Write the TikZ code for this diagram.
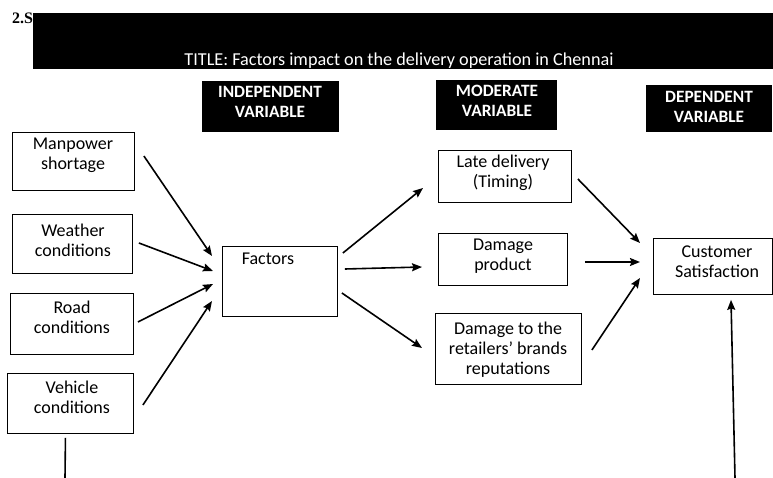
\documentclass[tikz,border=0pt]{standalone}
\usepackage{fontspec}
\setmainfont{Carlito}
\newfontfamily\numfont{Liberation Serif}
\usetikzlibrary{arrows.meta}
\begin{document}
\begin{tikzpicture}[x=1pt,y=-1pt,
  box/.style={draw=black,line width=0.9pt,inner sep=0pt,anchor=north west},
  hdr/.style={fill=black,inner sep=0pt,anchor=north west},
  txt/.style={align=center,inner sep=0pt,font=\fontsize{18}{20}\selectfont},
  htxt/.style={align=center,inner sep=0pt,text=white,font=\bfseries\fontsize{17.3}{20}\selectfont},
  arr/.style={line width=1.6pt,-{Stealth[length=10pt,width=8pt,inset=1.5pt]}},
  plain/.style={line width=1.6pt}]
\useasboundingbox (0,0) rectangle (773,478);
% section number partly hidden by the title bar
\node[anchor=west,inner sep=0pt,font=\numfont\bfseries\fontsize{16}{18}\selectfont] (sec) at (12,18) {2.S};
% title bar
\node[hdr,minimum width=740pt,minimum height=56pt] (bar) at (33,13) {};
\node[inner sep=0pt,text=white,font=\fontsize{18.2}{20}\selectfont] (title) at (399,61) {TITLE: Factors impact on the delivery operation in Chennai};
% headers
\node[hdr,minimum width=137pt,minimum height=51pt] (ind) at (202,81) {};
\node[htxt] (indt) at (270,102) {INDEPENDENT\\VARIABLE};
\node[hdr,minimum width=121pt,minimum height=50pt] (mod) at (436,80) {};
\node[htxt] (modt) at (497,101) {MODERATE\\VARIABLE};
\node[hdr,minimum width=126pt,minimum height=47pt] (dep) at (646,85) {};
\node[htxt] (dept) at (709,107) {DEPENDENT\\VARIABLE};
% left boxes
\node[box,minimum width=122pt,minimum height=58pt] (man) at (12,132) {};
\node[txt] (mant) at (73,155) {Manpower\\shortage};
\node[box,minimum width=120pt,minimum height=59pt] (wea) at (12,214) {};
\node[txt] (weat) at (73,240) {Weather\\conditions};
\node[box,minimum width=123pt,minimum height=61pt] (road) at (10,293) {};
\node[txt] (roadt) at (72,317) {Road\\conditions};
\node[box,minimum width=126pt,minimum height=60pt] (veh) at (7,373) {};
\node[txt] (veht) at (72,397) {Vehicle\\conditions};
% factors
\node[box,minimum width=115pt,minimum height=70pt] (fac) at (222,246) {};
\node[txt] (fact) at (268,259) {Factors};
% moderate boxes
\node[box,minimum width=133pt,minimum height=52pt] (late) at (438,150) {};
\node[txt] (latet) at (503,173) {Late delivery\\(Timing)};
\node[box,minimum width=129pt,minimum height=52pt] (dmg) at (438,233) {};
\node[txt] (dmgt) at (503,256) {Damage\\product};
\node[box,minimum width=146pt,minimum height=71pt] (rep) at (435,313) {};
\node[txt] (rept) at (508,350) {Damage to the\\retailers’ brands\\reputations};
% dependent box
\node[box,minimum width=119pt,minimum height=56pt] (cust) at (653,238) {};
\node[txt] (custt) at (717,262) {Customer\\Satisfaction};
% free ends at the bottom edge
\coordinate (bl) at (65,478);
\coordinate (br) at (735,478);
% arrows into Factors
\draw[arr] ([shift={(9,24)}]man.north east) -- ([shift={(-10,10)}]fac.north west);
\draw[arr] ([shift={(6,29)}]wea.north east) -- ([shift={(-9,25)}]fac.north west);
\draw[arr] ([shift={(4,29)}]road.north east) -- ([shift={(-9,38)}]fac.north west);
\draw[arr] ([shift={(9,32)}]veh.north east) -- ([shift={(-10,55)}]fac.north west);
% arrows out of Factors
\draw[arr] ([shift={(5,7)}]fac.north east) -- ([shift={(-15,38)}]late.north west);
\draw[arr] ([shift={(7,23)}]fac.north east) -- ([shift={(-16,34)}]dmg.north west);
\draw[arr] ([shift={(4,47)}]fac.north east) -- ([shift={(-13,35)}]rep.north west);
% arrows into Customer Satisfaction
\draw[arr] ([shift={(6,29)}]late.north east) -- ([shift={(-13,5)}]cust.north west);
\draw[arr] ([shift={(17,29)}]dmg.north east) -- ([shift={(-13,24)}]cust.north west);
\draw[arr] ([shift={(10,37)}]rep.north east) -- ([shift={(-13,40)}]cust.north west);
% bottom lines
\draw[plain] ([shift={(-5,4)}]veh.south) -- (bl);
\draw[arr] (br) -- ([shift={(78,5)}]cust.south west);
\end{tikzpicture}
\end{document}
